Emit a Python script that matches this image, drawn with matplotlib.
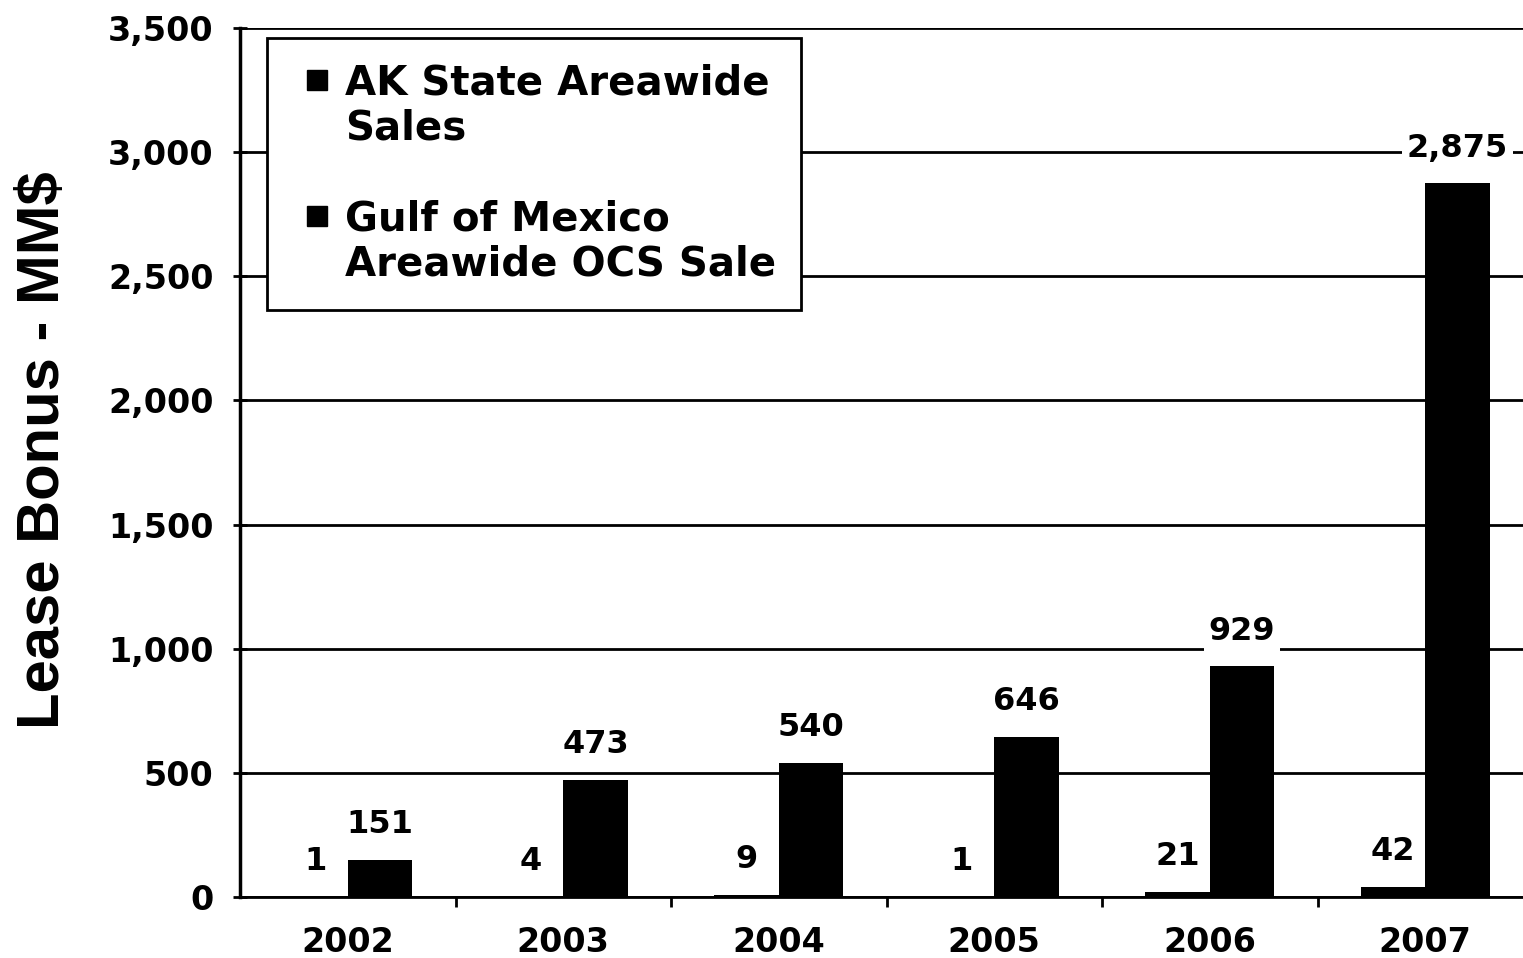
import matplotlib
matplotlib.use("Agg")
import matplotlib.pyplot as plt
import numpy as np
from matplotlib.lines import Line2D

years = ["2002", "2003", "2004", "2005", "2006", "2007"]
ak_state = [1, 4, 9, 1, 21, 42]
gulf_mexico = [151, 473, 540, 646, 929, 2875]
yticks = [0, 500, 1000, 1500, 2000, 2500, 3000, 3500]
legend_lines = ["AK State Areawide", "Sales", "", "Gulf of Mexico", "Areawide OCS Sale"]

fig = plt.figure(figsize=(15.23, 9.58), dpi=100)
ax = fig.add_axes([240 / 1523, 61 / 958, 1293 / 1523, 869 / 958])

x = np.arange(len(years))
w = 0.30
b_ak = ax.bar(x - w / 2, ak_state, w, color="black", zorder=3)
b_gm = ax.bar(x + w / 2, gulf_mexico, w, color="black", zorder=3)

lab_kw = dict(padding=14, fontsize=23, fontweight="bold", family="DejaVu Sans",
              bbox=dict(boxstyle="square,pad=0.15", facecolor="white", edgecolor="none"),
              zorder=4)
ax.bar_label(b_ak, labels=[f"{v:,}" for v in ak_state], **lab_kw)
ax.bar_label(b_gm, labels=[f"{v:,}" for v in gulf_mexico], **lab_kw)

ax.set_xlim(-0.5, len(years) - 0.5)
ax.set_ylim(0, 3500)
ax.set_yticks(yticks)
ax.set_yticklabels([f"{v:,}" for v in yticks], fontsize=24, fontweight="bold")
ax.yaxis.grid(True, color="black", linewidth=2, zorder=0)
ax.set_axisbelow(True)

ax.set_xticks(x)
ax.set_xticklabels(years, fontsize=24, fontweight="bold")
ax.tick_params(axis="x", which="major", length=0, pad=21)
ax.set_xticks(x[:-1] + 0.5, minor=True)
ax.tick_params(axis="x", which="minor", length=7, width=2, direction="out")
ax.tick_params(axis="y", length=10, width=2, direction="inout", pad=14)

for s in ("top", "right"):
    ax.spines[s].set_visible(False)
ax.spines["left"].set_linewidth(2.5)
ax.spines["bottom"].set_linewidth(2)

ax.set_ylabel("Lease Bonus - MM$", fontsize=43, fontweight="bold",
              family="Liberation Sans")
ax.yaxis.set_label_coords(-0.131, 0.514)

sq = dict(marker="s", color="black", linestyle="none", markersize=15)
blank = dict(linestyle="none", marker=None)
handles = [Line2D([], [], **sq), Line2D([], [], **blank), Line2D([], [], **blank),
           Line2D([], [], **sq), Line2D([], [], **blank)]
leg = ax.legend(handles, legend_lines,
                loc="upper left", bbox_to_anchor=(267 / 1523, 1 - 38 / 958),
                bbox_transform=fig.transFigure,
                prop=dict(size=29, weight="bold", family="DejaVu Sans"),
                fancybox=False, edgecolor="black", framealpha=1,
                handlelength=1.2, handletextpad=0.1, labelspacing=0.13,
                borderpad=0.63, borderaxespad=0)
leg.get_frame().set_linewidth(2)
leg.set_zorder(5)

fig.savefig("out.png", dpi=100)
